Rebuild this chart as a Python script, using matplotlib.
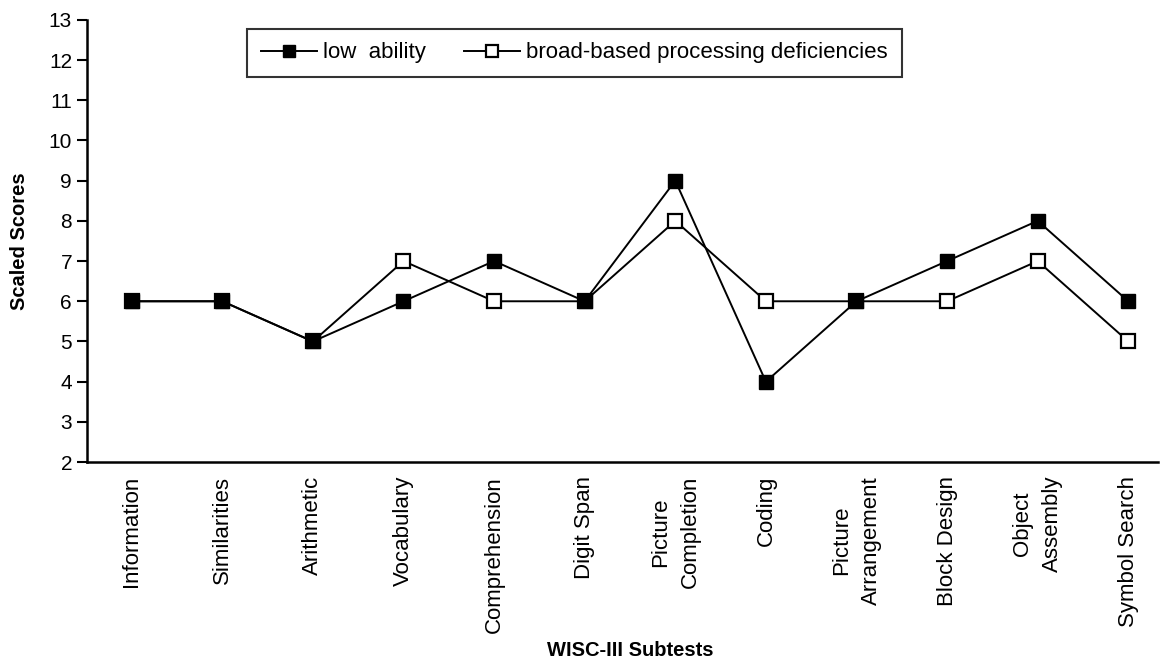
import matplotlib
matplotlib.use("Agg")
import matplotlib.pyplot as plt

subtests = ["Information", "Similarities", "Arithmetic", "Vocabulary", "Comprehension",
            "Digit Span", "Picture\nCompletion", "Coding", "Picture\nArrangement",
            "Block Design", "Object\nAssembly", "Symbol Search"]
low_ability = [6, 6, 5, 6, 7, 6, 9, 4, 6, 7, 8, 6]
broad_based = [6, 6, 5, 7, 6, 6, 8, 6, 6, 6, 7, 5]

plt.rcParams['font.family'] = ['Liberation Sans', 'DejaVu Sans']

fig = plt.figure(figsize=(11.64, 6.62), dpi=100)
ax = fig.add_axes([0.075, 0.302, 0.920, 0.668])

x = list(range(len(subtests)))
ax.plot(x, low_ability, color="black", lw=1.4, marker="s", ms=9.5, mew=1,
        mfc="black", mec="black", label="low  ability", zorder=3)
ax.plot(x, broad_based, color="black", lw=1.4, marker="s", ms=10,
        mfc="white", mec="black", mew=1.6, label="broad-based processing deficiencies", zorder=2)

ax.set_ylim(2, 13)
ax.set_yticks(range(2, 14))
ax.set_xlim(-0.49, 11.33)
ax.set_xticks(x)
ax.set_xticklabels(subtests, rotation=90, ha="center", va="top",
                   multialignment="center", linespacing=1.55)
ax.tick_params(axis="x", length=0, pad=10, labelsize=16)
ax.tick_params(axis="y", direction="out", length=7, width=1.5, labelsize=15, pad=4)

for s in ["top", "right"]:
    ax.spines[s].set_visible(False)
for s in ["left", "bottom"]:
    ax.spines[s].set_linewidth(1.8)

ax.set_ylabel("Scaled Scores", fontsize=14.5, fontweight="bold")
ax.yaxis.set_label_coords(-0.054, 0.5)
ax.set_xlabel("WISC-III Subtests", fontsize=14.5, fontweight="bold", va="top")
ax.xaxis.set_label_coords(0.507, -0.405)

leg = ax.legend(loc="upper center", bbox_to_anchor=(0.455, 0.98), ncol=2, fontsize=16,
                frameon=True, fancybox=False, edgecolor="black", handlelength=2.5,
                columnspacing=1.7, borderpad=0.62, handletextpad=0.3, borderaxespad=0,
                markerscale=0.85)
leg.get_frame().set_linewidth(1.5)

plt.savefig("out.png", dpi=100)
plt.close()
